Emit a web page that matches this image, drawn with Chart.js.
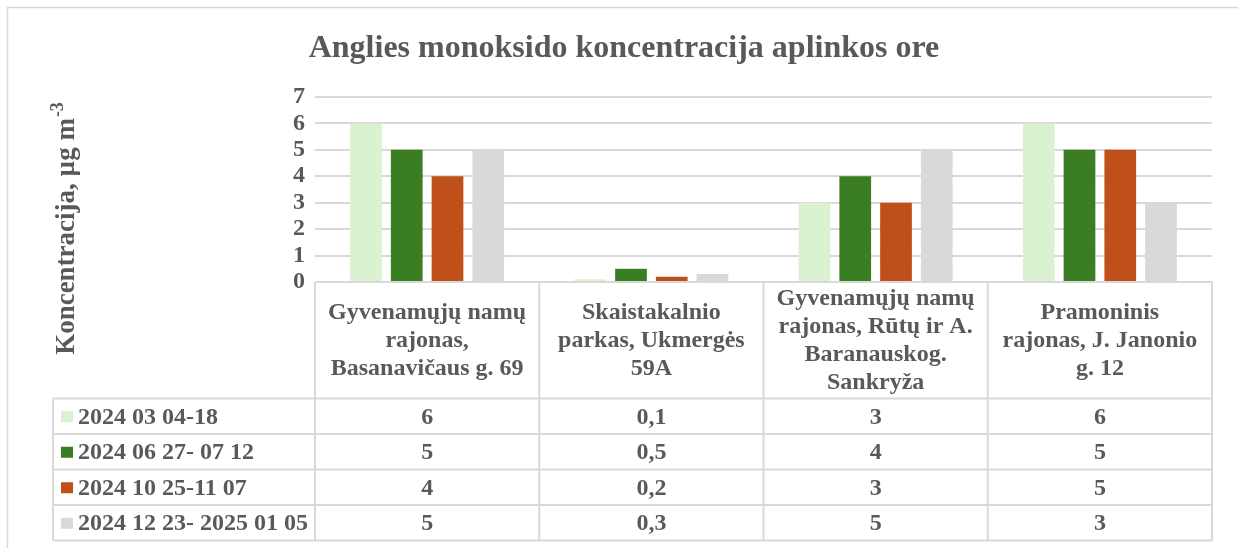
<!DOCTYPE html>
<html><head><meta charset="utf-8">
<script src="https://cdn.jsdelivr.net/npm/chart.js@4"></script>
<style>html,body{margin:0;padding:0;background:#fff;overflow:hidden}#wrap{width:1238px;height:548px;position:relative}</style>
</head><body><div id="wrap"><canvas id="c" width="1238" height="548"></canvas></div>
<script>
const chartTitle = 'Anglies monoksido koncentracija aplinkos ore';
const yAxisTitle = 'Koncentracija, µg m';
const yAxisTitleSup = '-3';
const categories = [
  ['Gyvenamųjų namų', 'rajonas,', 'Basanavičaus g. 69'],
  ['Skaistakalnio', 'parkas, Ukmergės', '59A'],
  ['Gyvenamųjų namų', 'rajonas, Rūtų ir A.', 'Baranauskog.', 'Sankryža'],
  ['Pramoninis', 'rajonas, J. Janonio', 'g. 12']
];
const seriesNames = ['2024 03 04-18', '2024 06 27- 07 12', '2024 10 25-11 07', '2024 12 23- 2025 01 05'];
const series1 = [6, 0.1, 3, 6];
const series2 = [5, 0.5, 4, 5];
const series3 = [4, 0.2, 3, 5];
const series4 = [5, 0.3, 5, 3];
const yTicks = ['0', '1', '2', '3', '4', '5', '6', '7'];

const seriesValues = [series1, series2, series3, series4];
const colors = ['#DAF2D0', '#3B7D23', '#C0501A', '#D9D9D9'];
const TXT = '#595959';
const LINE = '#D9D9D9';
const FONT = "'Liberation Serif', 'Times New Roman', serif";

const fmt = v => String(v).replace('.', ',');

const decor = {
  id: 'decor',
  beforeDraw(chart) {
    const ctx = chart.ctx;
    ctx.save();
    ctx.fillStyle = '#fff';
    ctx.fillRect(0, 0, chart.width, chart.height);
    ctx.strokeStyle = LINE;
    ctx.lineWidth = 1.5;
    ctx.strokeRect(7.5, 7.5, chart.width + 20, chart.height + 20);
    ctx.restore();
  },
  afterDraw(chart) {
    const ctx = chart.ctx;
    const ca = chart.chartArea;
    const xs = chart.scales.x;
    const n = categories.length;
    const colW = (ca.right - ca.left) / n;
    const edges = [];
    for (let i = 0; i <= n; i++) {
      edges.push(i < n ? xs.getPixelForValue(i) - colW / 2 : xs.getPixelForValue(n - 1) + colW / 2);
    }
    ctx.save();
    // title
    ctx.fillStyle = TXT;
    ctx.font = 'bold 32px ' + FONT;
    ctx.textAlign = 'center';
    ctx.textBaseline = 'alphabetic';
    ctx.fillText(chartTitle, 624, 57);

    // y axis title
    ctx.save();
    ctx.translate(74, 229);
    ctx.rotate(-Math.PI / 2);
    ctx.font = 'bold 27px ' + FONT;
    const w1 = ctx.measureText(yAxisTitle).width;
    ctx.font = 'bold 18px ' + FONT;
    const w2 = ctx.measureText(yAxisTitleSup).width;
    const start = -(w1 + w2) / 2;
    ctx.textAlign = 'left';
    ctx.textBaseline = 'alphabetic';
    ctx.font = 'bold 27px ' + FONT;
    ctx.fillText(yAxisTitle, start, 0);
    ctx.font = 'bold 18px ' + FONT;
    ctx.fillText(yAxisTitleSup, start + w1 + 1, -11);
    ctx.restore();

    // table
    const legLeft = 53;
    const top = ca.bottom;
    const headBottom = 398.5;
    const rowH = 35.5;
    const rows = seriesNames.length;
    const bottom = headBottom + rows * rowH;
    ctx.strokeStyle = LINE;
    ctx.lineWidth = 2;
    ctx.beginPath();
    ctx.moveTo(edges[0], top); ctx.lineTo(edges[n], top);
    for (let r = 0; r <= rows; r++) {
      const y = headBottom + r * rowH;
      ctx.moveTo(legLeft, y); ctx.lineTo(edges[n], y);
    }
    for (let i = 0; i <= n; i++) {
      ctx.moveTo(edges[i], top); ctx.lineTo(edges[i], bottom);
    }
    ctx.moveTo(legLeft, headBottom); ctx.lineTo(legLeft, bottom);
    ctx.stroke();

    // header labels
    ctx.fillStyle = TXT;
    ctx.font = 'bold 24px ' + FONT;
    ctx.textAlign = 'center';
    ctx.textBaseline = 'middle';
    const lh = 28;
    categories.forEach((lines, i) => {
      const cx = (edges[i] + edges[i + 1]) / 2;
      const cy = (top + headBottom) / 2 + 1;
      const y0 = cy - (lines.length - 1) * lh / 2;
      lines.forEach((t, k) => ctx.fillText(t, cx, y0 + k * lh));
    });
    // rows
    seriesNames.forEach((name, r) => {
      const cy = headBottom + r * rowH + rowH / 2 + 1.5;
      ctx.fillStyle = colors[r];
      ctx.fillRect(61, cy - 6.5, 12, 11);
      ctx.fillStyle = TXT;
      ctx.textAlign = 'left';
      ctx.fillText(name, 78, cy);
      ctx.textAlign = 'center';
      seriesValues[r].forEach((v, i) => {
        ctx.fillText(fmt(v), (edges[i] + edges[i + 1]) / 2, cy);
      });
    });
    ctx.restore();
  }
};

new Chart(document.getElementById('c'), {
  type: 'bar',
  data: {
    labels: categories,
    datasets: seriesNames.map((name, i) => ({
      label: name,
      data: seriesValues[i],
      backgroundColor: colors[i],
      borderWidth: 0,
      categoryPercentage: 0.727,
      barPercentage: 0.778
    }))
  },
  options: {
    responsive: false,
    devicePixelRatio: 1,
    animation: false,
    layout: { padding: { top: 97, left: 0, right: 26, bottom: 266 } },
    plugins: { legend: { display: false }, title: { display: false }, tooltip: { enabled: false } },
    scales: {
      x: { display: false },
      y: {
        min: 0, max: 7,
        afterFit(scale) { scale.width = 315; },
        border: { display: false },
        grid: { color: LINE, lineWidth: 2, drawTicks: false },
        ticks: {
          stepSize: 1,
          autoSkip: false,
          padding: 10,
          color: TXT,
          font: { family: FONT, size: 24, weight: 'bold' },
          callback: (v) => yTicks[v]
        }
      }
    }
  },
  plugins: [decor]
});
</script>
</body></html>
